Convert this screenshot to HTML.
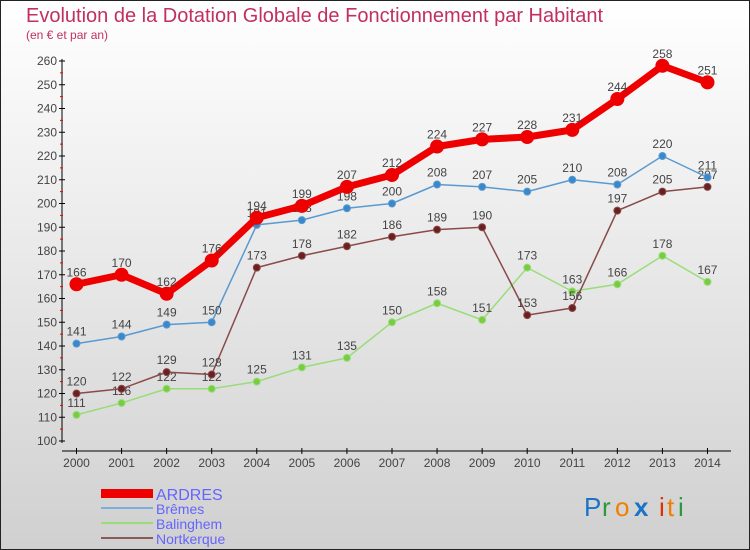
<!DOCTYPE html>
<html><head><meta charset="utf-8"><style>
body{margin:0}
#c{width:748px;height:548px;border:1px solid #222;background:linear-gradient(#fff,#d0d0d0);position:relative;font-family:"Liberation Sans",sans-serif;overflow:hidden}
text{font-family:"Liberation Sans",sans-serif}
</style></head><body>
<div id="c">
<svg id="s" width="748" height="548">
<text x="25" y="21" font-size="20" fill="#c03060">Evolution de la Dotation Globale de Fonctionnement par Habitant</text>
<text x="25" y="38" font-size="12" fill="#c03060">(en € et par an)</text>
<g id="axes"></g><g id="series"></g>
<g>
<rect x="100" y="488" width="52" height="9" fill="#e00"/>
<text x="155" y="499" font-size="16" fill="#6464ff">ARDRES</text>
<line x1="100" y1="507" x2="152" y2="507" stroke="#7aaedd" stroke-width="2"/>
<text x="155" y="513" font-size="14" fill="#6464ff">Brêmes</text>
<line x1="100" y1="522" x2="152" y2="522" stroke="#99dd77" stroke-width="2"/>
<text x="155" y="528" font-size="14" fill="#6464ff">Balinghem</text>
<line x1="100" y1="537" x2="152" y2="537" stroke="#8a5a5a" stroke-width="2"/>
<text x="155" y="543" font-size="14" fill="#6464ff">Nortkerque</text>
</g>
<g font-size="26" font-family="DejaVu Sans">
<text x="583" y="515" fill="#1a73c8">P</text><text x="601" y="515" fill="#2a9a3a">r</text><text x="614" y="515" fill="#f08000">o</text><text x="633" y="515" fill="#1a73c8" font-weight="bold">x</text><text x="658" y="515" fill="#e03000">i</text><text x="666" y="515" fill="#f08000">t</text><text x="677" y="515" fill="#2a9a3a">i</text>
</g>
</svg></div>
<script>
const years=[2000,2001,2002,2003,2004,2005,2006,2007,2008,2009,2010,2011,2012,2013,2014];
const ardres=[166,170,162,176,194,199,207,212,224,227,228,231,244,258,251];
const bremes=[141,144,149,150,191,193,198,200,208,207,205,210,208,220,211];
const balinghem=[111,116,122,122,125,131,135,150,158,151,173,163,166,178,167];
const nortkerque=[120,122,129,128,173,178,182,186,189,190,153,156,197,205,207];
const yTicks=[100,110,120,130,140,150,160,170,180,190,200,210,220,230,240,250,260];
const NS="http://www.w3.org/2000/svg";
const X=i=>75.5+i*45.07, Y=v=>440-(v-100)*2.375;
function mk(t,a,p){const e=document.createElementNS(NS,t);for(const k in a)e.setAttribute(k,a[k]);p.appendChild(e);return e;}
const ax=document.getElementById('axes'), se=document.getElementById('series');
const yl=mk('line',{x1:61,y1:58,x2:61,y2:442,stroke:'#000'},ax);


const xl=mk('line',{x1:61,y1:450,x2:730,y2:450,stroke:'#000'},ax);


yTicks.forEach(v=>{
 mk('line',{x1:58,y1:Y(v),x2:64,y2:Y(v),stroke:'#000'},ax);
 if(v<260)mk('line',{x1:59,y1:Y(v+5),x2:62,y2:Y(v+5),stroke:'#e00'},ax);
 const t=mk('text',{x:56,y:Y(v)+4,'font-size':12,fill:'#444','text-anchor':'end'},ax);t.textContent=v;
 
 
});
years.forEach((y,i)=>{
 mk('line',{x1:X(i),y1:447,x2:X(i),y2:453,stroke:'#000'},ax);
 const t=mk('text',{x:X(i),y:466,'font-size':12,fill:'#444','text-anchor':'middle'},ax);t.textContent=y;
 
 
});
function series(d,name,col,dot,w,r,fs){
 const g=mk('g',{},se);
 
 
 mk('polyline',{points:d.map((v,i)=>X(i)+','+Y(v)).join(' '),fill:'none',stroke:col,'stroke-width':w,'stroke-linejoin':'round'},g);
 d.forEach((v,i)=>{
  const c=mk('circle',{cx:X(i),cy:Y(v),r:r,fill:dot,stroke:col,'stroke-width':1},g);
  
  
  const t=mk('text',{x:X(i),y:Y(v)-8,'font-size':fs,fill:'#444','text-anchor':'middle'},g);t.textContent=v;
  
  
 });
}
series(balinghem,'balinghem','#99dd77','#77cc44',1.5,3.5,12);
series(nortkerque,'nortkerque','#8a4a4a','#6a2020',1.5,3.5,12);
series(bremes,'bremes','#5a9ad0','#3a88cc',1.5,3.5,12);
series(ardres,'ardres','#e00','#e00',7,6.5,12);
</script>
</body></html>
